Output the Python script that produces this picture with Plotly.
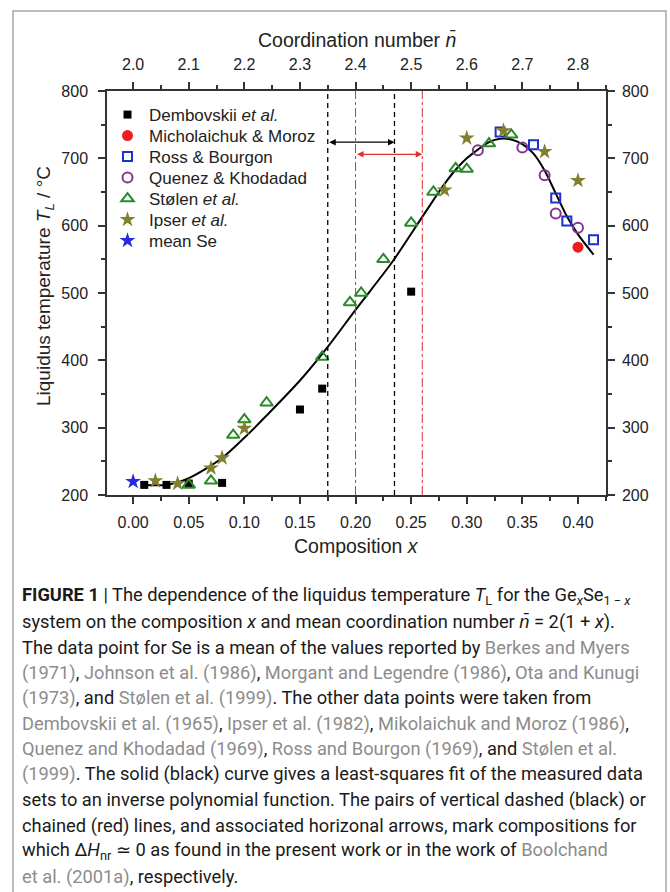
import plotly.graph_objects as go

# ---------------- data ----------------
dem_x = [0.01, 0.03, 0.05, 0.08, 0.15, 0.17, 0.25]
dem_y = [215, 215, 217, 218, 327, 358, 502]

mic_x = [0.40]
mic_y = [568]

ross_x = [0.33, 0.36, 0.38, 0.39, 0.414]
ross_y = [739, 720, 641, 607, 579]

quen_x = [0.31, 0.35, 0.37, 0.38, 0.40]
quen_y = [712, 716, 675, 618, 597]

stol_x = [0.05, 0.07, 0.09, 0.10, 0.12, 0.17, 0.195, 0.205, 0.225, 0.25, 0.27, 0.29, 0.30, 0.32, 0.34]
stol_y = [215, 221, 289, 312, 337, 405, 486, 500, 550, 604, 650, 685, 684, 722, 735]

ipser_x = [0.02, 0.04, 0.07, 0.08, 0.10, 0.28, 0.30, 0.333, 0.37, 0.40]
ipser_y = [221, 217, 240, 255, 299, 653, 730, 741, 710, 667]

se_x = [0.0]
se_y = [220]

fit_x = [0.010, 0.030, 0.050, 0.080, 0.100, 0.120, 0.150, 0.175, 0.200, 0.233, 0.250, 0.270, 0.280,
         0.290, 0.300, 0.310, 0.320, 0.330, 0.340, 0.350, 0.360, 0.370, 0.380, 0.390, 0.400, 0.414]
fit_y = [215, 215, 225, 255, 285, 318, 370, 420, 475, 546, 588, 638, 662,
         683, 700, 713, 724, 729, 728, 721, 707, 682, 648, 614, 587, 557]

black_lines = [0.175, 0.235]
red_lines = [0.20, 0.26]
black_arrow_y = 724
red_arrow_y = 706

x_ticks = [0.00, 0.05, 0.10, 0.15, 0.20, 0.25, 0.30, 0.35, 0.40]
n_ticks = [2.0, 2.1, 2.2, 2.3, 2.4, 2.5, 2.6, 2.7, 2.8]
y_ticks = [200, 300, 400, 500, 600, 700, 800]

x_range = [-0.0235, 0.4252]
y_range = [200, 800]

# ---------------- layout helpers (pixel -> paper) ----------------
W, H = 670, 892
L, R, T, B = 107, 606, 91, 495


def px(xpix):
    return (xpix - L) / (R - L)


def py(ypix):
    return (B - ypix) / (B - T)


CHART_FONT = "Liberation Sans, Arial, sans-serif"
CAP_FONT = "Roboto, Liberation Sans, sans-serif"
AXC = "#333333"
TXT = "#222222"

fig = go.Figure()

fig.add_trace(go.Scatter(x=fit_x, y=fit_y, mode="lines", line=dict(color="black", width=2, shape="spline", smoothing=0.8),
                         showlegend=False, hoverinfo="skip"))

series = [
    dict(x=dem_x, y=dem_y, name="Dembovskii <i>et al.</i>",
         marker=dict(symbol="square", size=8, color="black")),
    dict(x=mic_x, y=mic_y, name="Micholaichuk &amp; Moroz",
         marker=dict(symbol="circle", size=11, color="#ee1c1c")),
    dict(x=ross_x, y=ross_y, name="Ross &amp; Bourgon",
         marker=dict(symbol="square-open", size=9, color="#1c2fd0", line=dict(width=2))),
    dict(x=quen_x, y=quen_y, name="Quenez &amp; Khodadad",
         marker=dict(symbol="circle-open", size=10, color="#83358f", line=dict(width=2))),
    dict(x=stol_x, y=stol_y, name="Stølen <i>et al.</i>",
         marker=dict(symbol="triangle-up-open", size=11, color="#2a8a2a", line=dict(width=2))),
    dict(x=ipser_x, y=ipser_y, name="Ipser <i>et al.</i>",
         marker=dict(symbol="star", size=12, color="#80802e")),
    dict(x=se_x, y=se_y, name="mean Se",
         marker=dict(symbol="star", size=12, color="#2a2ae0")),
]
legend_rows = [115, 136, 157, 178, 199, 220, 241]
legend_layouts = {}
for i, s in enumerate(series):
    lname = "legend" if i == 0 else f"legend{i + 1}"
    fig.add_trace(go.Scatter(x=s["x"], y=s["y"], mode="markers", name=s["name"], marker=s["marker"],
                             legend=lname))
    legend_layouts[lname] = dict(x=px(106), y=py(legend_rows[i]), xanchor="left", yanchor="middle",
                                 bgcolor="rgba(0,0,0,0)", itemwidth=33,
                                 font=dict(size=17, color=TXT, family=CHART_FONT))

# invisible trace to instantiate the secondary axes
fig.add_trace(go.Scatter(x=[2.0 * (1 + v) for v in se_x], y=se_y, xaxis="x2", yaxis="y2", mode="markers",
                         marker=dict(opacity=0), showlegend=False, hoverinfo="skip"))

# vertical marker lines
for v in black_lines:
    fig.add_shape(type="line", xref="x", yref="paper", x0=v, x1=v, y0=0, y1=1,
                  line=dict(color="black", width=1.3, dash="5px,4px"))
for v in red_lines:
    fig.add_shape(type="line", xref="x", yref="paper", x0=v, x1=v, y0=0, y1=1,
                  line=dict(color="#e0302a", width=1, dash="dashdot"))

# horizontal double arrows
fig.add_annotation(x=black_lines[1], y=black_arrow_y, ax=black_lines[0], ay=black_arrow_y,
                   xref="x", yref="y", axref="x", ayref="y", text="", showarrow=True,
                   arrowhead=2, arrowside="end+start", arrowsize=1, arrowwidth=1.3, arrowcolor="black")
fig.add_annotation(x=red_lines[1], y=red_arrow_y, ax=red_lines[0], ay=red_arrow_y,
                   xref="x", yref="y", axref="x", ayref="y", text="", showarrow=True,
                   arrowhead=2, arrowside="end+start", arrowsize=1, arrowwidth=1.3, arrowcolor="#e0302a")

# axis titles
fig.add_annotation(x=0.5, y=py(40), xref="paper", yref="paper", showarrow=False,
                   xanchor="center", yanchor="middle",
                   text="Coordination number <i>n̄</i>", font=dict(size=19.5, color=TXT, family=CHART_FONT))
fig.add_annotation(x=0.5, y=py(546), xref="paper", yref="paper", showarrow=False,
                   xanchor="center", yanchor="middle",
                   text="Composition <i>x</i>", font=dict(size=19.5, color=TXT, family=CHART_FONT))
fig.add_annotation(x=px(45), y=py(286), xref="paper", yref="paper", showarrow=False, textangle=-90,
                   xanchor="center", yanchor="middle",
                   text="Liquidus temperature <i>T</i><sub><i>L</i></sub> / °C",
                   font=dict(size=19, color=TXT, family=CHART_FONT))

# caption
G = "#8c8c8c"


def g(s):
    return f"<span style='color:{G}'>{s}</span>"


caption = [
    "<b>FIGURE 1</b> | The dependence of the liquidus temperature <i>T</i><sub>L</sub> for the Ge<sub><i>x</i></sub>Se<sub>1 − <i>x</i></sub>",
    "system on the composition <i>x</i> and mean coordination number <i>n̄</i> = 2(1 + <i>x</i>).",
    "The data point for Se is a mean of the values reported by " + g("Berkes and Myers"),
    g("(1971)") + ", " + g("Johnson et al. (1986)") + ", " + g("Morgant and Legendre (1986)") + ", " + g("Ota and Kunugi"),
    g("(1973)") + ", and " + g("Stølen et al. (1999)") + ". The other data points were taken from",
    g("Dembovskii et al. (1965)") + ", " + g("Ipser et al. (1982)") + ", " + g("Mikolaichuk and Moroz (1986)") + ",",
    g("Quenez and Khodadad (1969)") + ", " + g("Ross and Bourgon (1969)") + ", and " + g("Stølen et al."),
    g("(1999)") + ". The solid (black) curve gives a least-squares fit of the measured data",
    "sets to an inverse polynomial function. The pairs of vertical dashed (black) or",
    "chained (red) lines, and associated horizonal arrows, mark compositions for",
    "which Δ<i>H</i><sub>nr</sub> ≃ 0 as found in the present work or in the work of " + g("Boolchand"),
    g("et al. (2001a)") + ", respectively.",
]
for i, line in enumerate(caption):
    fig.add_annotation(x=px(20), y=py(596 + 25.5 * i), xref="paper", yref="paper", showarrow=False,
                       xanchor="left", yanchor="middle", align="left", text=line,
                       font=dict(size=18.3, color="#1a1a1a", family=CAP_FONT))

# outer frame
fig.add_shape(type="rect", xref="paper", yref="paper", x0=px(13), x1=px(666), y0=py(898), y1=py(11),
              line=dict(color="#a8a8a8", width=1.5), layer="below")

axis_common = dict(showline=True, linecolor=AXC, linewidth=1.5, ticks="outside", ticklen=7, tickwidth=1.5,
                   tickcolor=AXC, showgrid=False, zeroline=False, automargin=False,
                   tickfont=dict(size=16, color=TXT, family=CHART_FONT))
minor_common = dict(ticks="outside", ticklen=4, tickwidth=1.5, tickcolor=AXC)

fig.update_layout(
    width=W, height=H,
    margin=dict(l=L, r=W - R, t=T, b=H - B),
    paper_bgcolor="white", plot_bgcolor="white",
    xaxis=dict(range=x_range, tickvals=x_ticks, ticktext=[f"{v:.2f}" for v in x_ticks],
               minor=dict(dtick=0.025, tick0=0, **minor_common), ticklabelstandoff=5,
               **axis_common),
    xaxis2=dict(range=[2 * (1 + x_range[0]), 2 * (1 + x_range[1])], overlaying="x", side="top", anchor="y",
                tickvals=n_ticks, ticktext=[f"{v:.1f}" for v in n_ticks],
                minor=dict(dtick=0.05, tick0=2.0, **minor_common), ticklabelstandoff=6,
                **axis_common),
    yaxis=dict(range=y_range, tickvals=y_ticks,
               minor=dict(dtick=50, tick0=200, **minor_common), ticklabelstandoff=7,
               **axis_common),
    yaxis2=dict(range=y_range, overlaying="y", side="right", anchor="x", tickvals=y_ticks,
                minor=dict(dtick=50, tick0=200, **minor_common), ticklabelstandoff=4,
                **axis_common),
    showlegend=True,
    **legend_layouts,
)

fig.write_html("out.html")
